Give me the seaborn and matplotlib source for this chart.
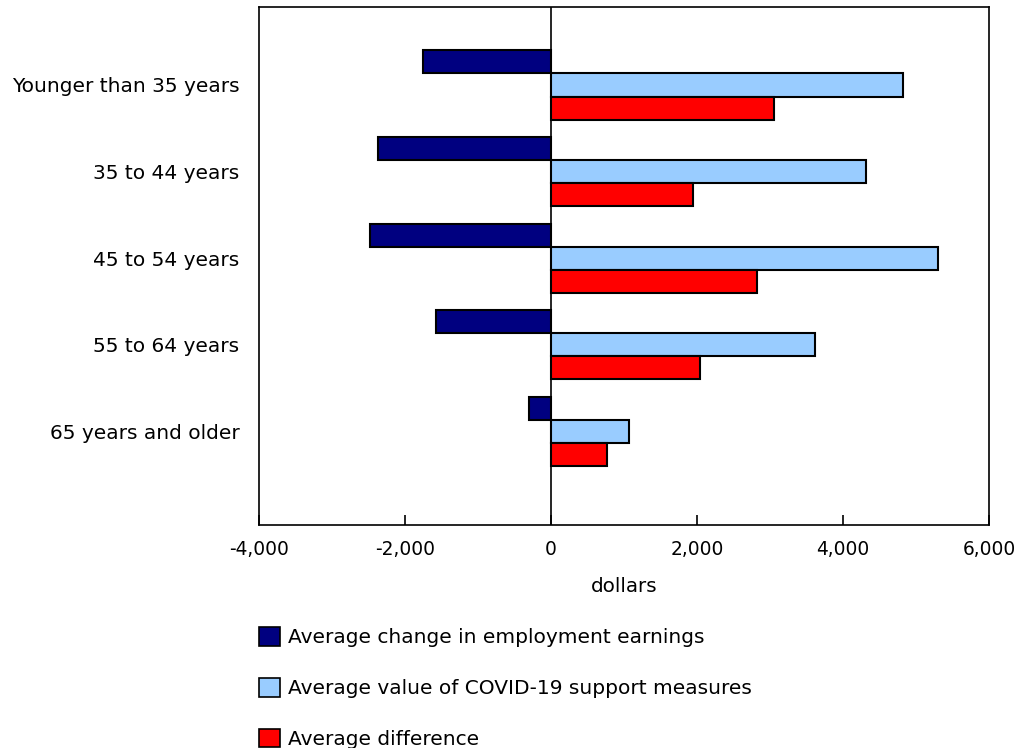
import matplotlib
matplotlib.use("Agg")
import matplotlib.pyplot as plt
import seaborn as sns
import pandas as pd
from matplotlib.patches import Patch
from matplotlib.ticker import FuncFormatter

categories = ["Younger than 35 years", "35 to 44 years", "45 to 54 years",
              "55 to 64 years", "65 years and older"]
series_names = ["Average change in employment earnings",
                "Average value of COVID-19 support measures",
                "Average difference"]
earnings_change = [-1760, -2370, -2480, -1580, -300]
covid_support = [4820, 4320, 5300, 3620, 1070]
avg_difference = [3060, 1950, 2820, 2040, 770]
colors = ["#000080", "#99CCFF", "#FF0000"]

rows = []
for name, vals in zip(series_names, [earnings_change, covid_support, avg_difference]):
    for c, v in zip(categories, vals):
        rows.append({"category": c, "series": name, "value": v})
df = pd.DataFrame(rows)

sns.set_style("white")
plt.rcParams["font.family"] = ["DejaVu Sans"]
plt.rcParams["text.color"] = "black"
plt.rcParams["axes.labelcolor"] = "black"
plt.rcParams["xtick.color"] = "black"
plt.rcParams["ytick.color"] = "black"

fig = plt.figure(figsize=(10.19, 7.48), dpi=100)
ax = fig.add_axes([259/1019, 1-525/748, (989-259)/1019, (525-7)/748])

sns.barplot(data=df, x="value", y="category", hue="series", order=categories,
            hue_order=series_names, palette=colors, orient="h", width=0.8,
            edgecolor="black", linewidth=1.5, ax=ax, legend=False, errorbar=None,
            saturation=1)

ax.axvline(0, color="black", linewidth=1.2, zorder=0.5)
ax.set_xlim(-4000, 6000)
ax.set_ylim(5.08, -0.9)
ax.set_xticks([-4000, -2000, 0, 2000, 4000, 6000])
ax.xaxis.set_major_formatter(FuncFormatter(lambda v, p: f"{int(v):,}"))
ax.tick_params(axis="x", bottom=True, direction="in", length=7, width=1.2, pad=11,
               labelsize=13.4, colors="black")
ax.tick_params(axis="y", left=False, length=0, pad=14, labelsize=14.5, colors="black")
ax.set_xlabel("dollars", fontsize=14.3, labelpad=13, color="black")
ax.set_ylabel("")
for s in ax.spines.values():
    s.set_visible(True)
    s.set_color("black")
    s.set_linewidth(1.2)

handles = [Patch(facecolor=c, edgecolor="black", linewidth=1.2, label=n)
           for c, n in zip(colors, series_names)]
fig.legend(handles=handles, loc="upper left", bbox_to_anchor=(241/1019, 1-609/748),
           frameon=False, fontsize=14.5, handlelength=1.05, handleheight=1.05,
           handletextpad=0.4, labelspacing=1.52, labelcolor="black")

fig.savefig("out.png", dpi=100)
